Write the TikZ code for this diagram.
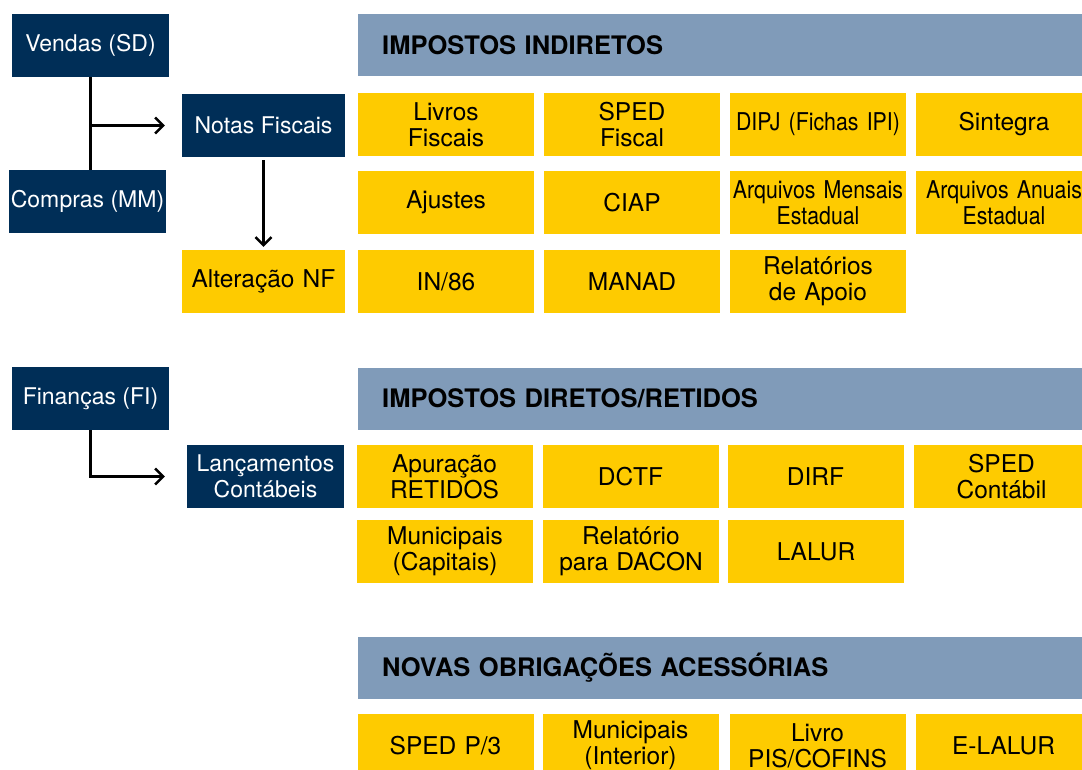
\documentclass[tikz,border=0pt]{standalone}
\usepackage{fontspec}
\setmainfont{TeX Gyre Heros}
\newfontfamily\narrowfont[FakeStretch=0.87]{TeX Gyre Heros}
\usetikzlibrary{arrows.meta}
\definecolor{navy}{RGB}{0,46,87}
\definecolor{gold}{RGB}{254,203,0}
\definecolor{steel}{RGB}{128,155,185}
\tikzset{
  sapbox/.style={fill=navy, text=white, minimum width=157pt, minimum height=63pt,
    inner sep=0pt, align=center, font=\fontsize{23}{26}\selectfont},
  taxbox/.style={fill=gold, text=black, minimum width=176pt, minimum height=63pt,
    text width=172pt, inner sep=0pt, align=center, font=\fontsize{24.5}{26}\selectfont},
  header/.style={fill=steel, anchor=west, minimum width=724pt, minimum height=62pt,
    text width=676pt, inner xsep=24pt, align=left, font=\bfseries\fontsize{25.5}{27}\selectfont},
  flow/.style={line width=2.5pt, -{Straight Barb[length=8pt,width=16pt]}},
}

\begin{document}
\begin{tikzpicture}[x=1pt,y=-1pt]
\clip (0,0) rectangle (1082,769);
% modulos
\node[sapbox] (vendas) at (90.5,45.5) {Vendas (SD)};
\node[sapbox] (compras) at (87.5,201.5) {Compras (MM)};
\node[sapbox, minimum width=163pt] (notas) at (263.5,125.5) {Notas Fiscais};
\node[taxbox, minimum width=163pt, text width=160pt] (alteracao) at (263.5,281.5) {Altera\c{c}\~ao NF};
\node[sapbox] (financas) at (90.5,398.5) {Finan\c{c}as (FI)};
\node[sapbox] (lancamentos) at (265.5,476.5) {Lan\c{c}amentos\\Cont\'abeis};

\draw[line width=2.5pt] (vendas.south) -- (vendas.south |- compras.north);
\draw[flow] (vendas.south |- notas.west) -- ([xshift=-17pt]notas.west);
\draw[flow] ([yshift=-3pt]notas.south) -- ([yshift=3pt]alteracao.north);
\draw[flow] (financas.south) |- ([xshift=-22pt]lancamentos.west);

% impostos indiretos
\node[header] (indiretos) at (358,45) {IMPOSTOS INDIRETOS};
\foreach \n/\x/\y/\t in {
            livros/446/124.5/{Livros\\Fiscais},
            spedfiscal/632/124.5/{SPED\\Fiscal},
            dipj/818/124.5/{\narrowfont DIPJ (Fichas IPI)},
            sintegra/1004/124.5/{Sintegra},
            ajustes/446/202.5/{Ajustes},
            ciap/632/202.5/{CIAP},
            mensais/818/202.5/{\narrowfont Arquivos Mensais\\Estadual},
            anuais/1004/202.5/{\narrowfont Arquivos Anuais\\Estadual},
            in86/446/281.5/{IN/86},
            manad/632/281.5/{MANAD},
            apoio/818/281.5/{Relat\'orios\\de Apoio}
           }
            \node[taxbox] (\n) at (\x,\y) {\t};

% impostos diretos
\node[header] (diretos) at (358,398.5) {IMPOSTOS DIRETOS/RETIDOS};
\foreach \n/\x/\y/\t in {
            apuracao/444.5/476.5/{Apura\c{c}\~ao\\RETIDOS},
            dctf/630.5/476.5/{DCTF},
            dirf/815.5/476.5/{DIRF},
            spedcontabil/1001.5/476.5/{SPED\\Cont\'abil},
            capitais/445/551.5/{Municipais\\(Capitais)},
            dacon/631/551.5/{Relat\'orio\\para DACON},
            lalur/816/551.5/{LALUR}
           }
            \node[taxbox] (\n) at (\x,\y) {\t};

% novas obrigacoes
\node[header] (novas) at (358,667.5) {NOVAS OBRIGA\c{C}\~OES ACESS\'ORIAS};
\foreach \n/\x/\y/\t in {
            spedp3/445.5/745.5/{SPED P/3},
            interior/630.5/745.5/{Municipais\\(Interior)},
            piscofins/817.5/745.5/{Livro\\PIS/COFINS},
            elalur/1003.5/745.5/{E-LALUR}
           }
            \node[taxbox] (\n) at (\x,\y) {\t};
\end{tikzpicture}
\end{document}
